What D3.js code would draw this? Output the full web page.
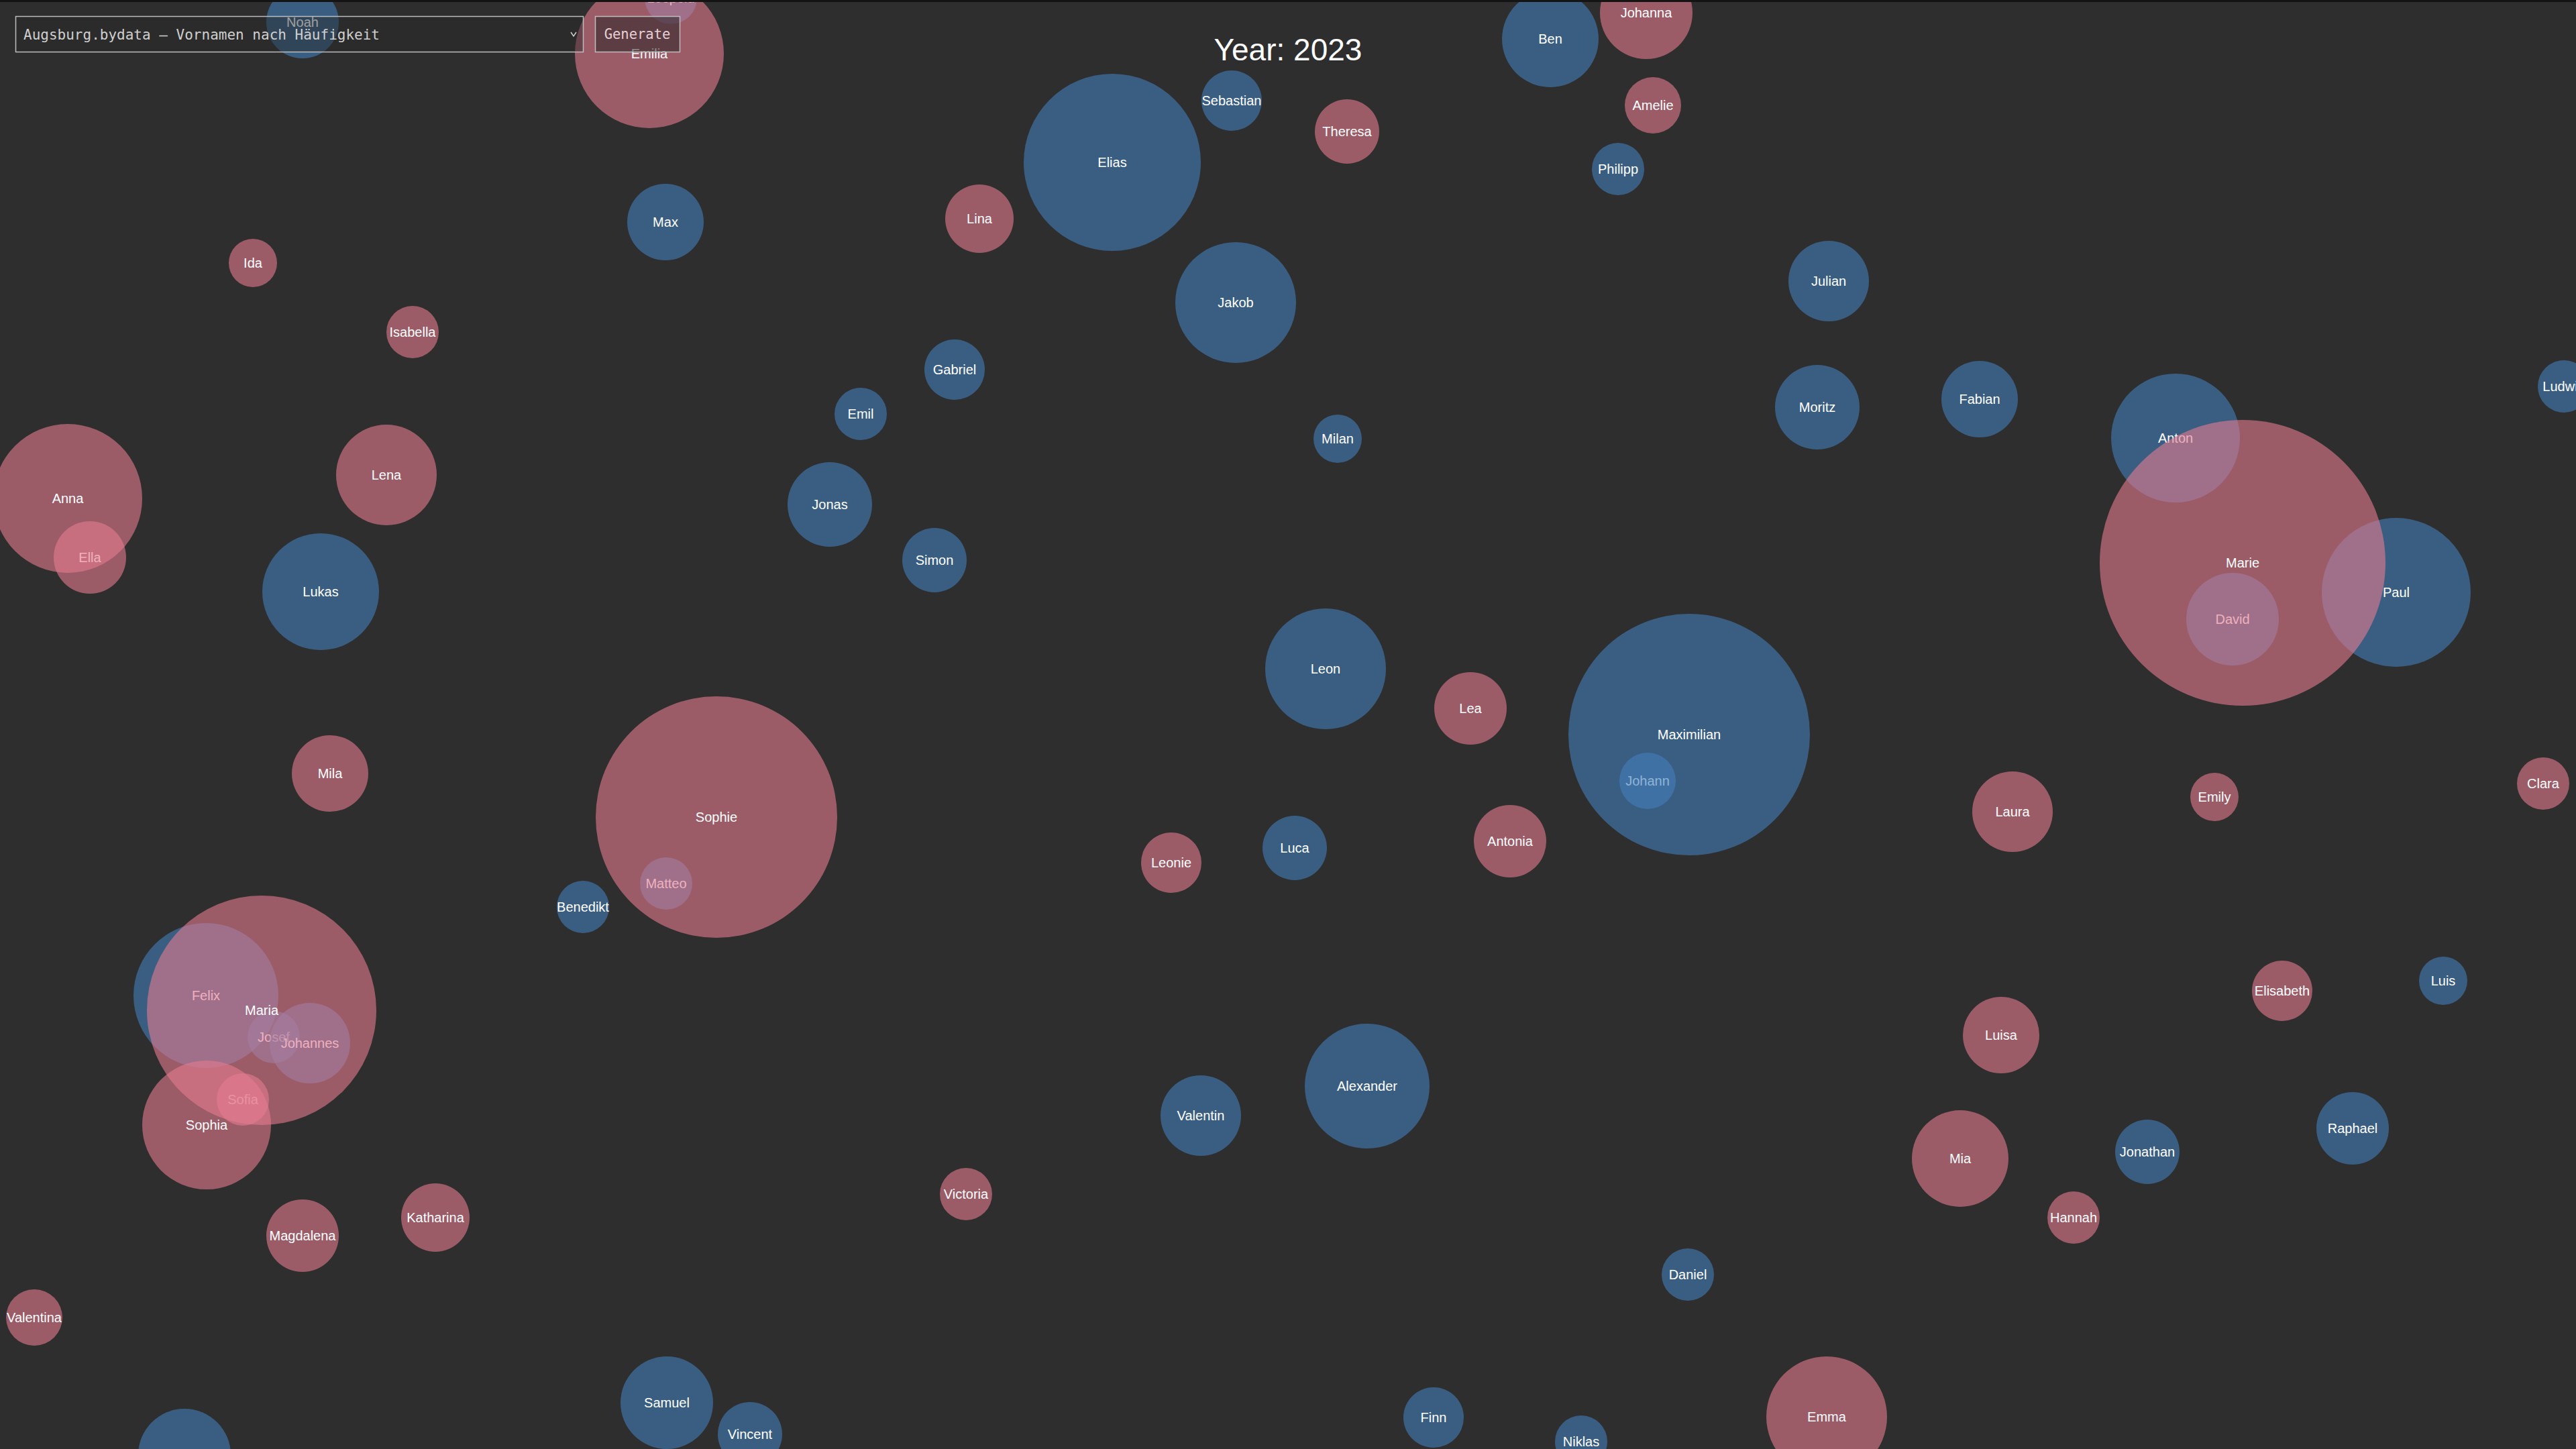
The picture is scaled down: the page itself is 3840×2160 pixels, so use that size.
<!DOCTYPE html>
<html>
<head>
<meta charset="utf-8">
<script src="https://cdn.jsdelivr.net/npm/d3@7"></script>
<style>
  html, body { margin: 0; padding: 0; background: #2e2e2e; overflow: hidden; }
  svg { display: block; }
</style>
</head>
<body>
<svg id="chart" width="3840" height="2160"></svg>
<script>
// ---- data (drawing order: names lying underneath come first) ----
const names = ["Leopold","David","Johann","Matteo","Ella","Felix","Josef","Johannes","Sofia","Anton","Paul","Noah",
  "Emilia","Maria","Sophia","Marie","Maximilian","Sophie","Anna","Ben","Johanna","Sebastian","Elias","Theresa",
  "Amelie","Philipp","Max","Lina","Ida","Isabella","Jakob","Julian","Gabriel","Emil","Milan","Moritz","Fabian",
  "Ludwig","Lena","Lukas","Jonas","Simon","Leon","Lea","Mila","Benedikt","Leonie","Luca","Antonia","Laura",
  "Emily","Clara","Elisabeth","Luis","Luisa","Raphael","Jonathan","Mia","Hannah","Daniel","Emma","Finn","Niklas",
  "Alexander","Valentin","Victoria","Magdalena","Katharina","Valentina","Samuel","Vincent","Leo"];
const genders = ["m","m","m","m","f","m","m","m","f","m","m","m",
  "f","f","f","f","m","f","f","m","f","m","m","f",
  "f","m","m","f","f","f","m","m","m","m","m","m","m",
  "m","f","m","m","m","m","f","f","m","f","m","f","f",
  "f","f","f","m","f","m","m","f","f","m","f","m","m",
  "m","m","f","f","f","f","m","m","m"];
const counts = [13,23,14,13,18,36,13,20,13,32,37,18,
  37,57,32,71,60,60,37,24,23,15,44,16,
  14,13,19,17,12,13,30,20,15,13,12,21,19,
  13,25,29,21,16,30,18,19,13,15,16,18,20,
  12,13,15,12,19,18,16,24,13,13,30,15,13,
  31,20,13,18,17,14,23,16,23];
// layout position of each bubble (layout units, 0-3840 x 0-2160)
const posX = [1000,3328,2456,993,134,307,408,462,362,3243,3572,451,
  968,390,308,3343,2518,1068,101,2311,2454,1836,1658,2008,
  2464,2412,992,1460,377,615,1842,2726,1423,1283,1994,2709,2951,
  3822,576,478,1237,1393,1976,2192,492,869,1746,1930,2251,3000,
  3301,3791,3402,3642,2983,3507,3201,2922,3091,2516,2723,2137,2357,
  2038,1790,1440,451,649,51,994,1118,275];
const posY = [-3,923,1164,1317,831,1484,1546,1555,1639,653,883,33,
  80,1506,1677,839,1095,1218,743,58,19,150,242,196,
  157,252,331,326,392,495,451,419,551,617,654,607,595,
  576,708,882,752,835,997,1056,1153,1352,1286,1264,1254,1210,
  1188,1168,1477,1462,1543,1682,1717,1727,1815,1900,2112,2113,2149,
  1619,1663,1780,1842,1815,1964,2091,2138,2169];
const year = 2023;
const datasetLabel = "Augsburg.bydata – Vornamen nach Häufigkeit";
const buttonLabel = "Generate";

const W = 3840, H = 2160;
const svg = d3.select("#chart");

const x = d3.scaleLinear().domain([0, 3840]).range([0, W]);
const y = d3.scaleLinear().domain([0, 2160]).range([0, H]);
const r = d3.scaleLinear().domain([0, 80]).range([0, 240]);
const color = d3.scaleOrdinal().domain(["m","f"]).range(["#427eba","#e57b90"]);

const data = names.map((n, i) => ({name: n, g: genders[i], c: counts[i], x: posX[i], y: posY[i]}));

const nodes = svg.append("g").attr("class", "bubbles")
  .selectAll("g").data(data).join("g")
  .attr("transform", d => `translate(${x(d.x)},${y(d.y)})`);

nodes.append("circle")
  .attr("r", d => r(d.c))
  .attr("fill", d => color(d.g))
  .attr("fill-opacity", 0.6);

nodes.append("text")
  .text(d => d.name)
  .attr("text-anchor", "middle")
  .attr("dominant-baseline", "central")
  .attr("fill", "#ffffff")
  .style("font-family", "'Liberation Sans', Arial, Helvetica, sans-serif")
  .style("font-size", "20px");

// title
svg.append("text")
  .attr("x", W / 2)
  .attr("y", 90)
  .attr("text-anchor", "middle")
  .attr("fill", "#ffffff")
  .style("font-family", "'Liberation Sans', Arial, Helvetica, sans-serif")
  .style("font-size", "46px")
  .text("Year: " + year);

// controls (select + button)
const ctrl = svg.append("g").attr("class", "controls");
ctrl.append("rect")
  .attr("x", 23.5).attr("y", 24.5).attr("width", 846).attr("height", 53)
  .attr("fill", "rgba(40,40,40,0.45)")
  .attr("stroke", "#bdbdbd").attr("stroke-width", 1.5);
ctrl.append("text")
  .attr("x", 35).attr("y", 59)
  .attr("fill", "#cfcfcf")
  .style("font-family", "'DejaVu Sans Mono', 'Liberation Mono', monospace")
  .style("font-size", "21px")
  .text(datasetLabel);
ctrl.append("path")
  .attr("d", "M851,48 L855,54 L859,48")
  .attr("fill", "none").attr("stroke", "#cfcfcf").attr("stroke-width", 1.5);
ctrl.append("rect")
  .attr("x", 887.5).attr("y", 24.5).attr("width", 126).attr("height", 53)
  .attr("fill", "rgba(30,30,30,0.5)")
  .attr("stroke", "#bdbdbd").attr("stroke-width", 1.5);
ctrl.append("text")
  .attr("x", 950).attr("y", 58)
  .attr("text-anchor", "middle")
  .attr("fill", "#e6d0d4")
  .style("font-family", "'DejaVu Sans Mono', 'Liberation Mono', monospace")
  .style("font-size", "20.5px")
  .text(buttonLabel);

// top window edge
svg.append("rect").attr("x", 0).attr("y", 0).attr("width", W).attr("height", 3).attr("fill", "#141414");
</script>
</body>
</html>
